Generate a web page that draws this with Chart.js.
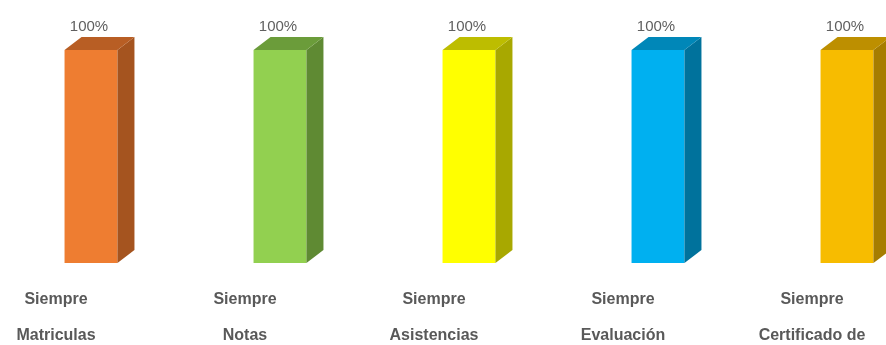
<!DOCTYPE html>
<html>
<head>
<meta charset="utf-8">
<script src="https://cdn.jsdelivr.net/npm/chart.js@4.4.1/dist/chart.umd.min.js"></script>
<style>
  html, body { margin: 0; padding: 0; background: #fff; }
  #wrap { width: 886px; height: 345px; position: relative; }
</style>
</head>
<body>
<div id="wrap"><canvas id="chart"></canvas></div>
<script>
// data
const categories = [
    ['Siempre', 'Matriculas'],
    ['Siempre', 'Notas'],
    ['Siempre', 'Asistencias'],
    ['Siempre', 'Evaluación'],
    ['Siempre', 'Certificado de']
];
const values = [100, 100, 100, 100, 100];

// colours for front, side and top faces
const frontColors = ['#EE7D31', '#92D050', '#FFFF00', '#00B0F0', '#F7BC00'];
const sideColors = ['#A5541F', '#5F8A33', '#A8A800', '#00729C', '#A67D00'];
const topColors = ['#B85E24', '#6B9C3A', '#BDBD00', '#0087B8', '#BD8F00'];

const DX = 17; // depth of the fake 3d box
const DY = 13;

// draws the side and top faces plus the value label
const box3d = {
    id: 'box3d',
    afterDatasetsDraw(chart) {
        const ctx = chart.ctx;
        const meta = chart.getDatasetMeta(0);
        meta.data.forEach((bar, i) => {
            const half = bar.width / 2;
            const l = bar.x - half, r = bar.x + half;
            const t = bar.y, b = bar.base;
            ctx.save();
            // side
            ctx.fillStyle = sideColors[i];
            ctx.beginPath();
            ctx.moveTo(r, t);
            ctx.lineTo(r + DX, t - DY);
            ctx.lineTo(r + DX, b - DY);
            ctx.lineTo(r, b);
            ctx.closePath();
            ctx.fill();
            // top
            ctx.fillStyle = topColors[i];
            ctx.beginPath();
            ctx.moveTo(l, t);
            ctx.lineTo(l + DX, t - DY);
            ctx.lineTo(r + DX, t - DY);
            ctx.lineTo(r, t);
            ctx.closePath();
            ctx.fill();
            // label
            ctx.fillStyle = '#606060';
            ctx.font = '15px "Liberation Sans", Arial, sans-serif';
            ctx.textAlign = 'center';
            ctx.textBaseline = 'middle';
            ctx.fillText(values[i] + '%', bar.x - 2, t - DY - 10);
            ctx.restore();
        });
    }
};

new Chart(document.getElementById('chart'), {
    type: 'bar',
    data: {
        labels: categories,
        datasets: [{
            data: values,
            backgroundColor: frontColors,
            borderWidth: 0,
            barPercentage: 1,
            categoryPercentage: 0.28,
            clip: false
        }]
    },
    options: {
        responsive: true,
        maintainAspectRatio: false,
        animation: false,
        layout: { padding: { top: 50, left: 91, right: 39, bottom: 0 } },
        plugins: {
            legend: { display: false },
            tooltip: { enabled: false }
        },
        scales: {
            x: {
                offset: false,
                grid: { display: false, drawTicks: false },
                border: { display: false },
                ticks: {
                    autoSkip: false,
                    maxRotation: 0,
                    minRotation: 0,
                    padding: 19,
                    labelOffset: -35,
                    color: '#595959',
                    font: { family: '"Liberation Sans", Arial, sans-serif', size: 16, weight: 'bold', lineHeight: 2.25 }
                },
                afterFit(scale) {
                    scale.paddingLeft = 0;
                    scale.paddingRight = 0;
                    scale.height = 82;
                }
            },
            y: {
                display: false,
                min: 0,
                max: 100
            }
        }
    },
    plugins: [box3d]
});
</script>
</body>
</html>
